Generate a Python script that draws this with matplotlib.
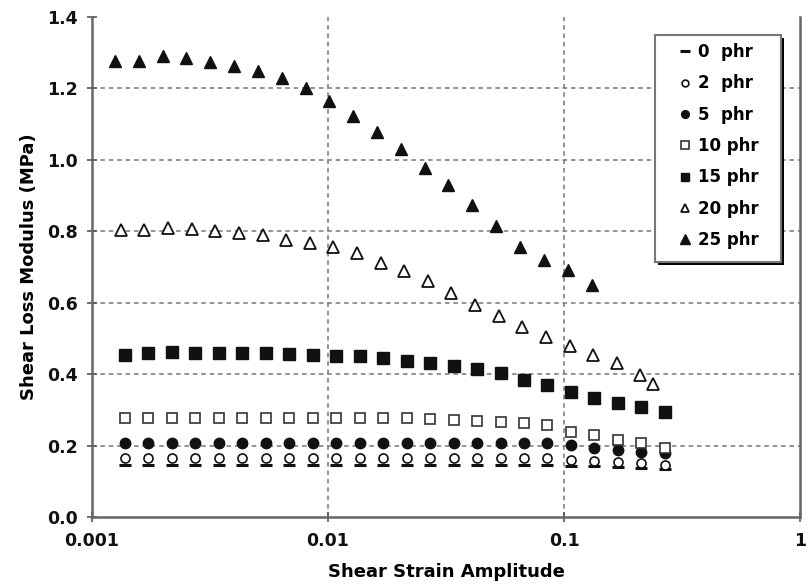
import matplotlib
matplotlib.use("Agg")
import matplotlib.pyplot as plt
from matplotlib.patches import Rectangle

plt.rcParams['font.family'] = ['DejaVu Sans']
plt.rcParams['font.weight'] = 'bold'

# Strain amplitudes for the 0-15 phr sweeps
strain = [0.001377, 0.001732, 0.002178, 0.002739, 0.003443, 0.004330, 0.005445,
          0.006847, 0.008610, 0.01083, 0.01361, 0.01712, 0.02153, 0.02707,
          0.03404, 0.04280, 0.05383, 0.06768, 0.08511, 0.1070, 0.1346, 0.1692,
          0.2128, 0.2676]
# Strain amplitudes for the 20 phr sweep
strain_20 = [0.001324, 0.001667, 0.002099, 0.002642, 0.003327, 0.004194, 0.005280,
             0.006648, 0.008375, 0.01054, 0.01327, 0.01671, 0.02104, 0.02649,
             0.03334, 0.04207, 0.05297, 0.06668, 0.08395, 0.1057, 0.1331, 0.1675,
             0.2109, 0.2393]
# Strain amplitudes for the 25 phr sweep
strain_25 = [0.00125, 0.00158, 0.00199, 0.00251, 0.00317, 0.00400, 0.00505,
             0.00637, 0.00804, 0.01014, 0.0128, 0.0161, 0.0204, 0.0257, 0.0324,
             0.0409, 0.0516, 0.0652, 0.0822, 0.1038, 0.1309]

g0 = [0.146, 0.146, 0.146, 0.146, 0.146, 0.146, 0.146, 0.146, 0.146, 0.146,
      0.146, 0.146, 0.146, 0.146, 0.146, 0.146, 0.146, 0.146, 0.145, 0.144,
      0.142, 0.140, 0.137, 0.134]
g2 = [0.164, 0.164, 0.164, 0.164, 0.164, 0.164, 0.164, 0.164, 0.164, 0.164,
      0.164, 0.164, 0.164, 0.164, 0.164, 0.164, 0.164, 0.164, 0.164, 0.159,
      0.156, 0.153, 0.150, 0.145]
g5 = [0.206, 0.207, 0.206, 0.206, 0.206, 0.206, 0.206, 0.206, 0.206, 0.206,
      0.206, 0.206, 0.206, 0.206, 0.206, 0.206, 0.206, 0.206, 0.206, 0.203,
      0.194, 0.187, 0.183, 0.178]
g10 = [0.277, 0.277, 0.277, 0.277, 0.277, 0.277, 0.277, 0.277, 0.277, 0.278,
       0.278, 0.276, 0.276, 0.274, 0.271, 0.269, 0.267, 0.262, 0.257, 0.239,
       0.229, 0.217, 0.206, 0.194]
g15 = [0.455, 0.458, 0.461, 0.460, 0.458, 0.458, 0.458, 0.456, 0.455, 0.452,
       0.450, 0.444, 0.437, 0.430, 0.422, 0.414, 0.402, 0.383, 0.369, 0.350,
       0.334, 0.320, 0.309, 0.293]
g20 = [0.803, 0.803, 0.809, 0.805, 0.801, 0.794, 0.789, 0.777, 0.767, 0.756,
       0.738, 0.712, 0.689, 0.661, 0.626, 0.593, 0.562, 0.532, 0.504, 0.478,
       0.453, 0.430, 0.399, 0.372]
g25 = [1.276, 1.276, 1.292, 1.286, 1.274, 1.264, 1.249, 1.229, 1.201, 1.166,
       1.124, 1.078, 1.031, 0.977, 0.929, 0.873, 0.814, 0.756, 0.721, 0.691,
       0.649]

labels = ["0  phr", "2  phr", "5  phr", "10 phr", "15 phr", "20 phr", "25 phr"]
x_ticks = [0.001, 0.01, 0.1, 1]
x_ticklabels = ["0.001", "0.01", "0.1", "1"]
y_ticks = [0.0, 0.2, 0.4, 0.6, 0.8, 1.0, 1.2, 1.4]

W, H = 808, 588
ax_left, ax_right, ax_top, ax_bottom = 92, 800, 17, 517
fig = plt.figure(figsize=(W / 100, H / 100), dpi=100)
ax = fig.add_axes([ax_left / W, 1 - ax_bottom / H,
                   (ax_right - ax_left) / W, (ax_bottom - ax_top) / H])

ink = '#111111'
ax.plot(strain, g0, ls='none', marker='_', ms=9, mew=2.2, color=ink, label=labels[0], zorder=3)
ax.plot(strain, g2, ls='none', marker='o', ms=6.5, mfc='white', mec=ink, mew=1.2, label=labels[1], zorder=4)
ax.plot(strain, g5, ls='none', marker='o', ms=7.5, mfc=ink, mec=ink, label=labels[2], zorder=4)
ax.plot(strain, g10, ls='none', marker='s', ms=7.5, mfc='white', mec='#333333', mew=1.2, label=labels[3], zorder=4)
ax.plot(strain, g15, ls='none', marker='s', ms=8, mfc=ink, mec=ink, label=labels[4], zorder=4)
ax.plot(strain_20, g20, ls='none', marker='^', ms=8, mfc='white', mec=ink, mew=1.3, label=labels[5], zorder=4)
ax.plot(strain_25, g25, ls='none', marker='^', ms=9, mfc=ink, mec=ink, label=labels[6], zorder=4)

ax.set_xscale('log')
ax.set_xlim(0.001, 1)
ax.set_ylim(0.0, 1.4)
ax.set_xticks(x_ticks)
ax.set_xticklabels(x_ticklabels)
ax.xaxis.set_minor_locator(matplotlib.ticker.NullLocator())
ax.set_yticks(y_ticks)
ax.set_yticklabels([f"{v:.1f}" for v in y_ticks])

for lbl in ax.get_xticklabels() + ax.get_yticklabels():
    lbl.set_fontweight('bold')
    lbl.set_fontsize(12.5)
    lbl.set_color('#111111')

ax.tick_params(axis='both', direction='inout', length=7, width=1.2, color='#555555')
ax.tick_params(axis='x', pad=7)
ax.tick_params(axis='y', pad=7)

grid_kw = dict(color='#777777', linestyle=(0, (3, 2.5)), linewidth=1.1, zorder=1)
for v in y_ticks[1:-1]:
    ax.axhline(v, **grid_kw)
for v in [0.01, 0.1]:
    ax.axvline(v, **grid_kw)

for side in ['left', 'bottom', 'right']:
    ax.spines[side].set_color('#666666')
    ax.spines[side].set_linewidth(1.8)
ax.spines['top'].set_visible(False)

ax.set_xlabel("Shear Strain Amplitude", fontsize=13, fontweight='bold', labelpad=10)
ax.set_ylabel("Shear Loss Modulus (MPa)", fontsize=13, fontweight='bold', labelpad=6)

# Legend box with a solid drop shadow, drawn in axes coordinates
def ax_x(px):
    return (px - ax_left) / (ax_right - ax_left)

def ax_y(py):
    return (ax_bottom - py) / (ax_bottom - ax_top)

bx0, bx1, by_top, by_bot = 655, 781, 35, 262
off = 3
shadow = Rectangle((ax_x(bx0 + off), ax_y(by_bot + off)), ax_x(bx1 + off) - ax_x(bx0 + off),
                   ax_y(by_top + off) - ax_y(by_bot + off), transform=ax.transAxes,
                   facecolor='black', edgecolor='none', zorder=5)
box = Rectangle((ax_x(bx0), ax_y(by_bot)), ax_x(bx1) - ax_x(bx0),
                ax_y(by_top) - ax_y(by_bot), transform=ax.transAxes,
                facecolor='white', edgecolor='#777777', linewidth=1.5, zorder=6)
ax.add_patch(shadow)
ax.add_patch(box)

leg = ax.legend(loc='upper left', bbox_to_anchor=(ax_x(677), ax_y(43)), frameon=False,
                prop={'weight': 'bold', 'size': 12}, handlelength=1.0,
                handletextpad=0.25, labelspacing=0.8, borderpad=0,
                borderaxespad=0, markerscale=0.75)
leg.set_zorder(7)

fig.savefig("out.png", dpi=100)
